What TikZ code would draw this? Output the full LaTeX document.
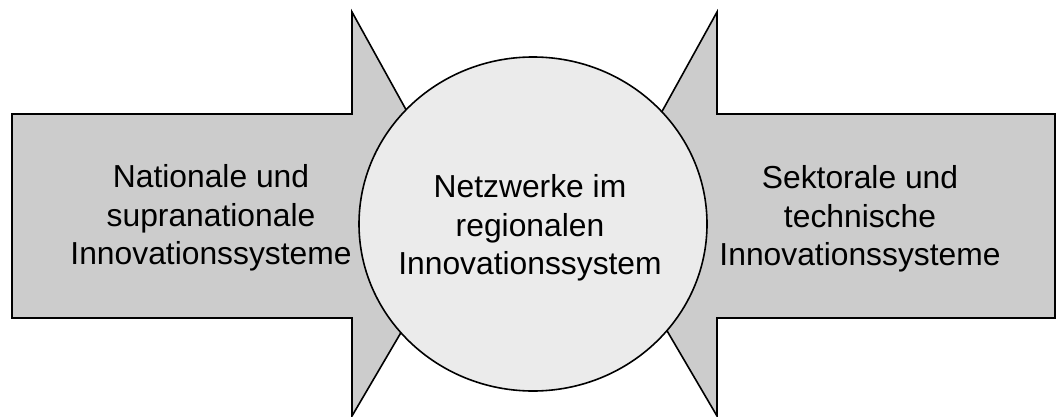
\documentclass[tikz,border=0pt]{standalone}
\usepackage{fontspec}
\setmainfont{Liberation Sans}
\begin{document}
\begin{tikzpicture}[x=1pt,y=-1pt,
  arrowshape/.style={draw=black,line width=1.6pt,line join=miter,fill=arrowgray},
  hub/.style={draw=black,line width=1.6pt,fill=hubgray},
  label/.style={align=center,font=\fontsize{31.8}{38.5}\selectfont,inner sep=0pt}]
\definecolor{arrowgray}{HTML}{CCCCCC}
\definecolor{hubgray}{HTML}{EBEBEB}
\useasboundingbox (0,0) rectangle (1056,417);
% left arrow pointing to the centre
\draw[arrowshape] (12,114) -- (352,114) -- (352,12) -- (467,220) -- (352,416)
  -- (352,318) -- (12,318) -- cycle;
% right arrow pointing to the centre
\draw[arrowshape] (1055,114) -- (717,114) -- (717,12) -- (602,220) -- (717,416)
  -- (717,318) -- (1055,318) -- cycle;
% central network
\draw[hub] (533,224) ellipse [x radius=174, y radius=167];
\node[label] (hubtext) at (530,228) {Netzwerke im\\regionalen\\Innovationssystem};
\node[label] (lefttext) at (211,218) {Nationale und\\supranationale\\Innovationssysteme};
\node[label] (righttext) at (860,219) {Sektorale und\\technische\\Innovationssysteme};
\end{tikzpicture}
\end{document}
